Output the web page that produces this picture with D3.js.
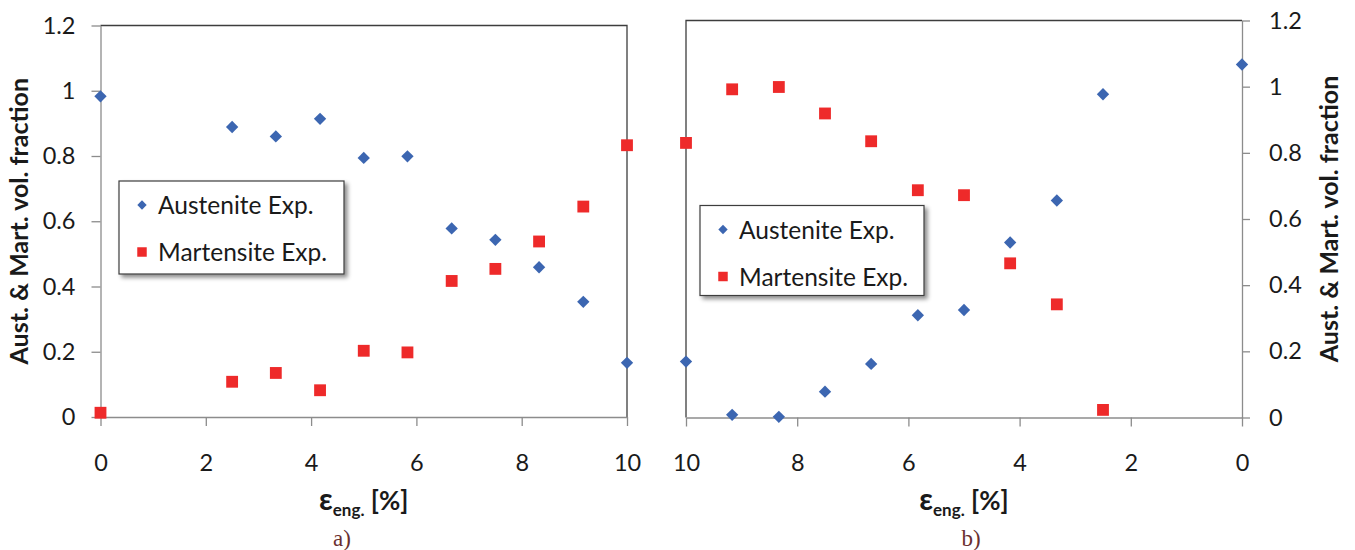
<!DOCTYPE html>
<html>
<head>
<meta charset="utf-8">
<script src="https://cdn.jsdelivr.net/npm/d3@7"></script>
<style>
  body { margin: 0; background: #fff; }
  text { font-family: Lato, "Open Sans", sans-serif; fill: #1a1a1a; }
</style>
</head>
<body>
<div id="vis"></div>
<script>
// strain points, loading (a) and unloading (b)
var strainLeft = [0, 2.5, 3.33, 4.17, 5, 5.83, 6.67, 7.5, 8.33, 9.17, 10];
var austLeft = [0.983, 0.889, 0.860, 0.914, 0.794, 0.799, 0.578, 0.543, 0.459, 0.353, 0.166];
var martLeft = [0.013, 0.108, 0.135, 0.082, 0.203, 0.198, 0.417, 0.454, 0.538, 0.645, 0.833];

var strainRight = [10, 9.17, 8.33, 7.5, 6.67, 5.83, 5, 4.17, 3.33, 2.5, 0];
var austRight = [0.169, 0.008, 0.002, 0.078, 0.162, 0.309, 0.325, 0.529, 0.656, 0.977, 1.067];
var martRight = [0.830, 0.992, 0.999, 0.919, 0.835, 0.687, 0.672, 0.466, 0.342, 0.023, null];

var xTicks = [0, 2, 4, 6, 8, 10];
var yTicks = [0, 0.2, 0.4, 0.6, 0.8, 1, 1.2];
var seriesNames = ["Austenite Exp.", "Martensite Exp."];
var yTitle = "Aust. & Mart. vol. fraction";

var blue = "#3c66b1", red = "#ee2a2a";
var axisGrey = "#8c8c8c", borderDark = "#3d3d3d";

var svg = d3.select("#vis").append("svg")
	.attr("width", 1355)
	.attr("height", 550);

var defs = svg.append("defs");
defs.append("filter").attr("id", "shadow")
	.attr("x", "-10%").attr("y", "-10%").attr("width", "130%").attr("height", "140%")
	.append("feDropShadow")
	.attr("dx", 3).attr("dy", 3).attr("stdDeviation", 2)
	.attr("flood-color", "#000").attr("flood-opacity", 0.45);

function zip(xs, ys){
	return xs.map(function(x, i){ return {x: x, y: ys[i]}; })
		.filter(function(d){ return d.y != null; });
}

function drawPanel(opt){
	var x = d3.scaleLinear().domain(opt.xDomain).range([opt.left, opt.right]);
	var y = d3.scaleLinear().domain([0, 1.2]).range([opt.bottom, opt.top]);

	// frame lines (dark side)
	svg.append("path")
		.attr("d", opt.frame(opt))
		.attr("fill", "none")
		.attr("stroke", borderDark)
		.attr("stroke-width", 1.3);

	var xAxis = svg.append("g")
		.attr("transform", "translate(0," + opt.bottom + ")")
		.call(d3.axisBottom(x).tickValues(xTicks).tickSize(9).tickSizeOuter(0).tickPadding(28)
			.tickFormat(d3.format("d")));

	var yAx = opt.yRight
		? d3.axisRight(y).tickSize(8).tickPadding(19)
		: d3.axisLeft(y).tickSize(9).tickPadding(16);
	yAx.tickValues(yTicks).tickSizeOuter(0).tickFormat(function(d){ return String(+d.toFixed(1)); });
	var yAxis = svg.append("g")
		.attr("transform", "translate(" + (opt.yRight ? opt.right : opt.left) + ",0)")
		.call(yAx);

	[xAxis, yAxis].forEach(function(a){
		a.select(".domain").attr("stroke", axisGrey).attr("stroke-width", 1.3);
		a.selectAll(".tick line").attr("stroke", axisGrey).attr("stroke-width", 1.3);
		a.selectAll(".tick text").style("font-family", "Lato, sans-serif").style("font-size", "23.5px").attr("fill", "#1a1a1a");
	});

	var diamond = d3.symbol(d3.symbolSquare, 76);
	var square = d3.symbol(d3.symbolSquare, 140);

	svg.append("g").selectAll("path")
		.data(zip(opt.strain, opt.aust))
		.enter().append("path")
		.attr("d", diamond)
		.attr("fill", blue)
		.attr("transform", function(d){ return "translate(" + x(d.x) + "," + y(d.y) + ") rotate(45)"; });

	svg.append("g").selectAll("path")
		.data(zip(opt.strain, opt.mart))
		.enter().append("path")
		.attr("d", square)
		.attr("fill", red)
		.attr("transform", function(d){ return "translate(" + x(d.x) + "," + y(d.y) + ")"; });

	// x axis title
	var cx = (opt.left + opt.right) / 2;
	var xt = svg.append("text")
		.attr("x", cx)
		.attr("y", 510)
		.attr("text-anchor", "middle")
		.style("font-weight", "bold");
	xt.append("tspan").style("font-size", "30px").text("ε");
	xt.append("tspan").style("font-size", "17px").attr("dy", 6).text("eng.");
	xt.append("tspan").style("font-size", "26px").attr("dy", -6).text(" [%]");

	// caption
	svg.append("text")
		.attr("x", opt.captionX)
		.attr("y", 546)
		.attr("text-anchor", "middle")
		.style("font-family", "'Liberation Serif', 'DejaVu Serif', serif")
		.style("font-size", "23px")
		.style("fill", "#6a2f2f")
		.text(opt.caption);

	// y axis title
	svg.append("text")
		.attr("transform", "translate(" + opt.titleX + "," + (opt.top + opt.bottom) / 2 + ") rotate(-90)")
		.attr("text-anchor", "middle")
		.style("font-weight", "bold")
		.style("font-size", "25px")
		.text(yTitle);

	// legend
	var lg = svg.append("g").attr("transform", "translate(" + opt.legend[0] + "," + opt.legend[1] + ")");
	lg.append("rect")
		.attr("width", opt.legend[2])
		.attr("height", opt.legend[3])
		.attr("fill", "#fff")
		.attr("stroke", borderDark)
		.attr("stroke-width", 1.2)
		.attr("filter", "url(#shadow)");
	seriesNames.forEach(function(name, i){
		var my = 24 + i * 47;
		lg.append("path")
			.attr("d", i == 0 ? d3.symbol(d3.symbolSquare, 44)() : d3.symbol(d3.symbolSquare, 90)())
			.attr("fill", i == 0 ? blue : red)
			.attr("transform", "translate(23," + my + ")" + (i == 0 ? " rotate(45)" : ""));
		lg.append("text")
			.attr("x", 39)
			.attr("y", my + 9)
			.style("font-size", "24.5px")
			.text(name);
	});
}

drawPanel({
	left: 100.5, right: 627, top: 25.5, bottom: 417,
	xDomain: [0, 10],
	strain: strainLeft, aust: austLeft, mart: martLeft,
	yRight: false,
	frame: function(o){ return "M" + o.left + "," + o.top + "H" + o.right + "V" + o.bottom; },
	titleX: 28, caption: "a)", captionX: 342,
	legend: [119, 181, 225, 93]
});

drawPanel({
	left: 686, right: 1242, top: 20.5, bottom: 417.5,
	xDomain: [10, 0],
	strain: strainRight, aust: austRight, mart: martRight,
	yRight: true,
	frame: function(o){ return "M" + o.left + "," + o.bottom + "V" + o.top + "H" + o.right; },
	titleX: 1338, caption: "b)", captionX: 971,
	legend: [700, 205.5, 224, 90]
});
</script>
</body>
</html>
